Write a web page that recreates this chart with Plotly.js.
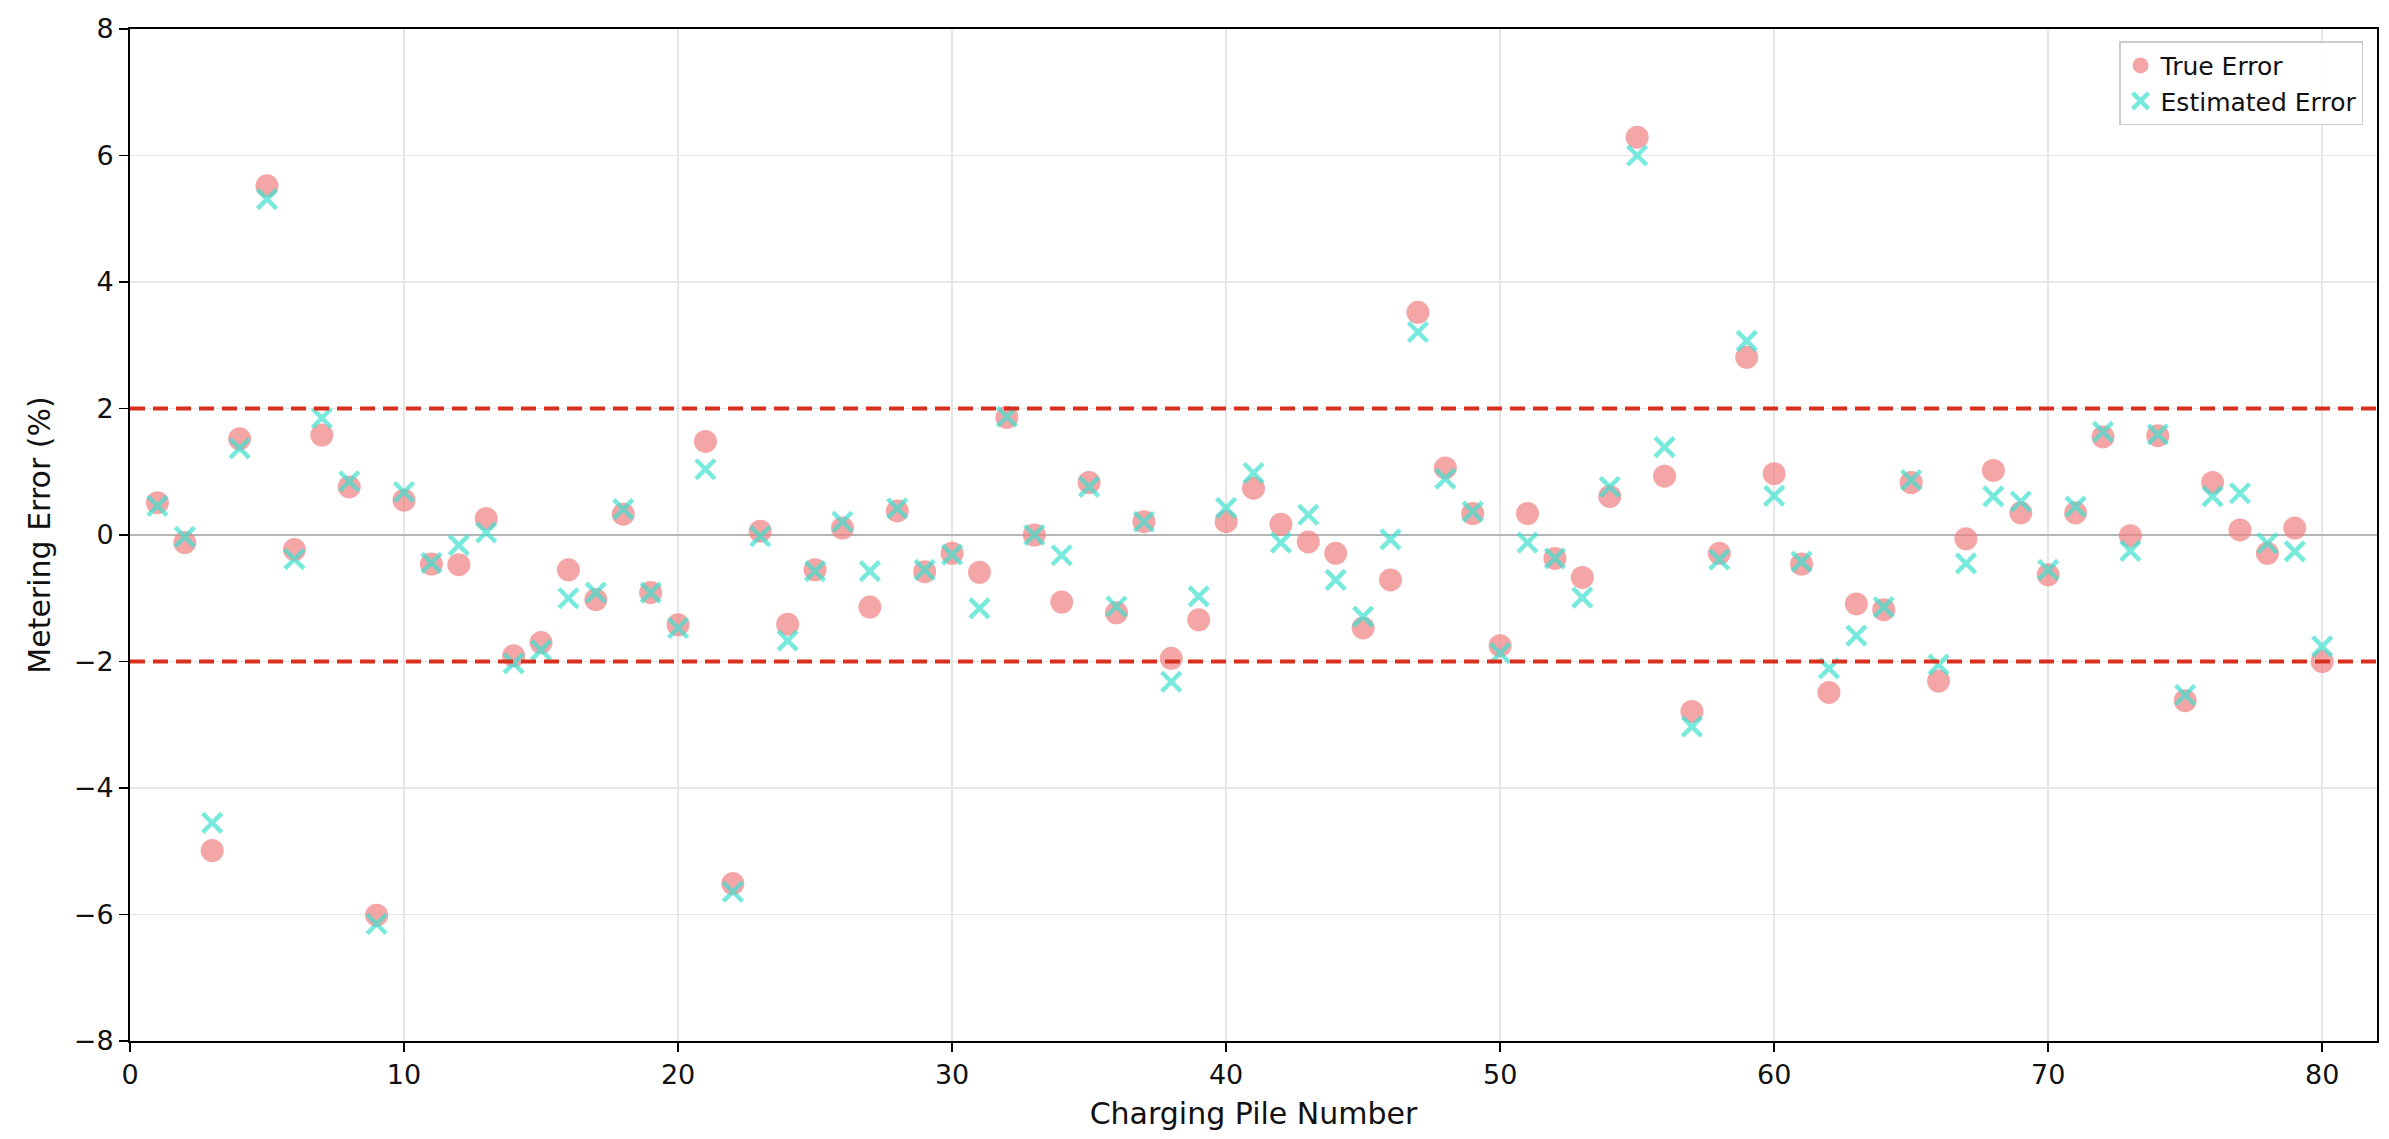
<!DOCTYPE html>
<html>
<head>
<meta charset="utf-8">
<script src="https://cdn.plot.ly/plotly-3.0.1.min.js"></script>
<style>
  html, body { margin: 0; padding: 0; background: #fff; }
  #plot { width: 2389px; height: 1139px; }
</style>
</head>
<body>
<div id="plot"></div>
<script>
// Charging pile numbers
var pile_numbers = [
  1, 2, 3, 4, 5, 6, 7, 8, 9, 10, 11, 12, 13, 14, 15, 16, 17, 18, 19, 20,
  21, 22, 23, 24, 25, 26, 27, 28, 29, 30, 31, 32, 33, 34, 35, 36, 37, 38, 39, 40,
  41, 42, 43, 44, 45, 46, 47, 48, 49, 50, 51, 52, 53, 54, 55, 56, 57, 58, 59, 60,
  61, 62, 63, 64, 65, 66, 67, 68, 69, 70, 71, 72, 73, 74, 75, 76, 77, 78, 79, 80
]

// Metering error (%)
var true_error = [
  0.51, -0.12, -4.99, 1.52, 5.52, -0.23, 1.58, 0.76, -6.01, 0.55,
  -0.46, -0.47, 0.26, -1.91, -1.70, -0.55, -1.02, 0.33, -0.91, -1.42,
  1.48, -5.51, 0.06, -1.41, -0.55, 0.11, -1.14, 0.38, -0.58, -0.29,
  -0.59, 1.86, 0.00, -1.06, 0.83, -1.23, 0.21, -1.95, -1.34, 0.21,
  0.74, 0.17, -0.11, -0.29, -1.47, -0.71, 3.52, 1.06, 0.34, -1.75,
  0.34, -0.37, -0.67, 0.61, 6.29, 0.93, -2.79, -0.29, 2.81, 0.97,
  -0.46, -2.49, -1.09, -1.18, 0.83, -2.31, -0.06, 1.02, 0.35, -0.63,
  0.35, 1.55, -0.01, 1.57, -2.62, 0.83, 0.08, -0.29, 0.11, -2.00
]

var estimated_error = [
  0.46, -0.03, -4.55, 1.37, 5.31, -0.38, 1.85, 0.85, -6.15, 0.68,
  -0.44, -0.16, 0.04, -2.03, -1.82, -1.00, -0.91, 0.41, -0.91, -1.47,
  1.04, -5.64, -0.02, -1.67, -0.57, 0.21, -0.57, 0.42, -0.55, -0.31,
  -1.16, 1.87, 0.00, -0.32, 0.76, -1.13, 0.21, -2.32, -0.97, 0.43,
  0.98, -0.12, 0.32, -0.71, -1.29, -0.07, 3.21, 0.89, 0.37, -1.87,
  -0.12, -0.37, -0.99, 0.76, 6.00, 1.39, -3.03, -0.39, 3.07, 0.62,
  -0.42, -2.11, -1.59, -1.14, 0.87, -2.05, -0.45, 0.61, 0.53, -0.55,
  0.45, 1.63, -0.25, 1.59, -2.53, 0.61, 0.66, -0.13, -0.26, -1.76
]

// Tolerance limits (%)
var limits = [2, -2]

var x_ticks = [0, 10, 20, 30, 40, 50, 60, 70, 80]
var y_ticks = [-8, -6, -4, -2, 0, 2, 4, 6, 8]

let plot_div = document.getElementById('plot')

let font_family = 'DejaVu Sans, Liberation Sans, sans-serif'

let data = [
  {
    name : 'True Error',
    x : pile_numbers,
    y : true_error,
    type : 'scatter',
    mode : 'markers',
    marker : {symbol : 'circle', size : 23, color : '#f08080', opacity : 0.7, line : {width : 0}}
  },
  {
    name : 'Estimated Error',
    x : pile_numbers,
    y : estimated_error,
    type : 'scatter',
    mode : 'markers',
    marker : {
      symbol : 'x-thin',
      size : 19,
      color : '#40e0d0',
      opacity : 0.7,
      line : {width : 4.5, color : '#40e0d0'}
    }
  }
]

// dashed limit lines across the whole plot
let shapes = limits.map(v => ({
  type : 'line',
  xref : 'paper',
  x0 : 0,
  x1 : 1,
  yref : 'y',
  y0 : v,
  y1 : v,
  layer : 'above',
  line : {color : '#d7301f', width : 4, dash : '15px,8px'}
}))

let layout = {
  width : 2389,
  height : 1139,
  paper_bgcolor : '#ffffff',
  plot_bgcolor : '#ffffff',
  margin : {l : 130, r : 12, t : 29, b : 98},
  font : {family : font_family, size : 27, color : '#111111'},
  showlegend : true,
  legend : {
    x : 0.9938,
    xanchor : 'right',
    y : 0.988,
    yanchor : 'top',
    bgcolor : 'rgba(255,255,255,0.85)',
    bordercolor : '#cccccc',
    borderwidth : 1.5,
    font : {family : font_family, size : 25, color : '#111111'},
    itemsizing : 'trace',
    tracegroupgap : 4
  },
  xaxis : {
    range : [0, 82],
    tickvals : x_ticks,
    ticks : 'outside',
    ticklen : 9,
    tickwidth : 1.5,
    tickcolor : '#000',
    tickfont : {size : 27},
    showgrid : true,
    gridcolor : '#e6e6e6',
    gridwidth : 1.5,
    zeroline : false,
    showline : true,
    mirror : true,
    linecolor : '#000',
    linewidth : 2,
    automargin : false,
    title : {text : 'Charging Pile Number', font : {size : 30}, standoff : 14}
  },
  yaxis : {
    range : [-8, 8],
    tickvals : y_ticks,
    ticks : 'outside',
    ticklen : 9,
    tickwidth : 1.5,
    tickcolor : '#000',
    tickfont : {size : 27},
    showgrid : true,
    gridcolor : '#e6e6e6',
    gridwidth : 1.5,
    zeroline : true,
    zerolinecolor : '#b5b5b5',
    zerolinewidth : 1.8,
    showline : true,
    mirror : true,
    linecolor : '#000',
    linewidth : 2,
    automargin : false,
    title : {text : 'Metering Error (%)', font : {size : 30}, standoff : 14}
  },
  shapes : shapes
}

Plotly.newPlot(plot_div, data, layout, {displayModeBar : false, staticPlot : true})
</script>
</body>
</html>
